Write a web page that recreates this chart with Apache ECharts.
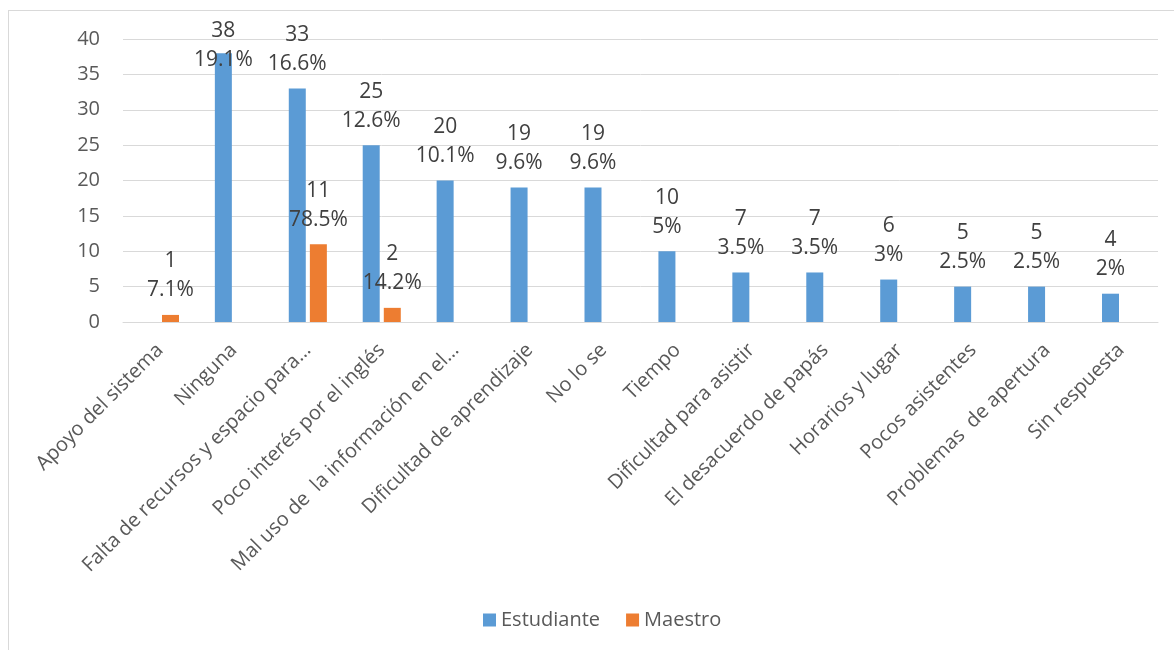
<!DOCTYPE html>
<html>
<head>
<meta charset="utf-8">
<script src="https://cdn.jsdelivr.net/npm/echarts@6/dist/echarts.min.js"></script>
<style>
  html, body { margin: 0; padding: 0; background: #fff; overflow: hidden; }
  #frame {
    position: absolute; left: 8px; top: 10px; width: 1200px; height: 700px;
    border-left: 1px solid #d9d9d9; border-top: 1px solid #d9d9d9;
  }
  #chart { position: absolute; left: 0; top: 0; width: 1174px; height: 650px; }
</style>
</head>
<body>
<div id="frame"></div>
<div id="chart"></div>
<script>
// categorías
const categories = [
  'Apoyo del sistema', 'Ninguna', 'Falta de recursos y espacio para…',
  'Poco interés por el inglés', 'Mal uso de  la información en el…',
  'Dificultad de aprendizaje', 'No lo se', 'Tiempo', 'Dificultad para asistir',
  'El desacuerdo de papás', 'Horarios y lugar', 'Pocos asistentes',
  'Problemas  de apertura', 'Sin respuesta'
]
// Estudiante
const estudiante = [null, 38, 33, 25, 20, 19, 19, 10, 7, 7, 6, 5, 5, 4]
const estudiantePct = ['', '19.1%', '16.6%', '12.6%', '10.1%', '9.6%', '9.6%', '5%', '3.5%', '3.5%', '3%', '2.5%', '2.5%', '2%']
// Maestro
const maestro = [1, null, 11, 2, null, null, null, null, null, null, null, null, null, null]
const maestroPct = ['7.1%', '', '78.5%', '14.2%', '', '', '', '', '', '', '', '', '', '']
const yTicks = [0, 5, 10, 15, 20, 25, 30, 35, 40]

const font = '"Open Sans", "Noto Sans", sans-serif'

const makeLabel = (pcts) => ({
  show: true,
  position: 'top',
  distance: 10,
  color: '#404040',
  fontSize: 21,
  fontFamily: font,
  lineHeight: 29,
  formatter: (p) => p.value == null ? '' : p.value + '\n' + pcts[p.dataIndex]
})

// la etiqueta de 38 queda dentro del área
const estudianteData = estudiante.map((v, i) =>
  i === 1 ? { value: v, label: { offset: [0, 31] } } : v)

const chart = echarts.init(document.getElementById('chart'))
chart.setOption({
  animation: false,
  grid: { left: 123, right: 16, top: 39, bottom: 328 },
  legend: {
    bottom: 15,
    left: 478,
    itemWidth: 13,
    itemHeight: 13,
    itemGap: 26,
    icon: 'rect',
    textStyle: { color: '#595959', fontSize: 20, fontFamily: font },
    data: ['Estudiante', 'Maestro']
  },
  xAxis: {
    type: 'category',
    data: categories,
    axisLine: { lineStyle: { color: '#d9d9d9' } },
    axisTick: { show: false },
    axisLabel: {
      interval: 0,
      rotate: 45,
      margin: 25,
      color: '#595959',
      fontSize: 20,
      fontFamily: font
    }
  },
  yAxis: {
    type: 'value',
    min: yTicks[0],
    max: yTicks[yTicks.length - 1],
    interval: 5,
    axisLine: { show: false },
    axisTick: { show: false },
    splitLine: { lineStyle: { color: '#d9d9d9' } },
    axisLabel: { color: '#595959', fontSize: 20, fontFamily: font, margin: 23 }
  },
  series: [
    {
      name: 'Estudiante',
      type: 'bar',
      data: estudianteData,
      barWidth: 17,
      barGap: '24%',
      itemStyle: { color: '#5b9bd5' },
      label: makeLabel(estudiantePct)
    },
    {
      name: 'Maestro',
      type: 'bar',
      data: maestro,
      barWidth: 17,
      itemStyle: { color: '#ed7d31' },
      label: makeLabel(maestroPct)
    }
  ]
})
</script>
</body>
</html>
